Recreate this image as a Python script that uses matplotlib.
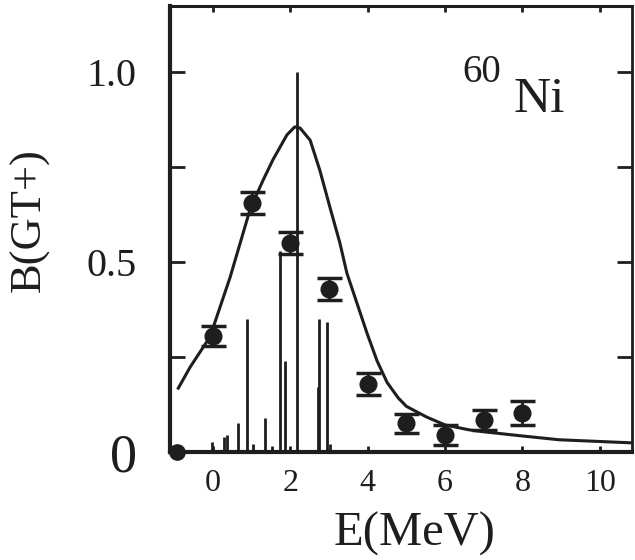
import matplotlib
matplotlib.use("Agg")
import matplotlib.pyplot as plt

plt.rcParams['font.family'] = ['Liberation Serif', 'DejaVu Serif']

# measured B(GT+) strength with errors
e_exp = [0, 1, 2, 3, 4, 5, 6, 7, 8]
b_exp = [0.305, 0.655, 0.55, 0.43, 0.178, 0.076, 0.045, 0.084, 0.103]
b_err = [0.027, 0.029, 0.029, 0.029, 0.029, 0.025, 0.026, 0.026, 0.032]

# lone point at the lower-left corner
e_low = [-0.93]
b_low = [0.0]

# folded strength curve
e_curve = [-0.9, -0.59, -0.08, 0.44, 0.96, 1.29, 1.55, 1.91, 2.11, 2.25,
           2.51, 2.76, 3.02, 3.28, 3.46, 3.72, 3.98, 4.24, 4.5, 4.79, 5.0,
           5.52, 6.0, 6.63, 7.0, 8.0, 8.95, 10.8]
b_curve = [0.168, 0.224, 0.303, 0.46, 0.64, 0.715, 0.77, 0.835, 0.856, 0.853,
           0.821, 0.742, 0.645, 0.55, 0.471, 0.392, 0.313, 0.24, 0.183, 0.142,
           0.12, 0.092, 0.071, 0.058, 0.053, 0.042, 0.032, 0.024]

# calculated transitions (stick spectrum)
e_sticks = [-0.02, 0.27, 0.35, 0.65, 0.88, 1.03, 1.33, 1.52, 1.73, 1.86,
            2.16, 2.71, 2.74, 2.94, 3.02]
b_sticks = [0.027, 0.04, 0.045, 0.076, 0.35, 0.02, 0.089, 0.015, 0.53, 0.24,
            1.0, 0.17, 0.35, 0.343, 0.02]

ink = '#1e1e1e'

fig = plt.figure(figsize=(6.35, 5.6), dpi=100)
ax = fig.add_axes([0.268, 0.193, 0.727, 0.796])

ax.vlines(e_sticks, 0, b_sticks, color=ink, lw=2.0)
ax.plot(e_curve, b_curve, color=ink, lw=2.2)
ax.errorbar(e_exp, b_exp, yerr=b_err, fmt='o', ms=12, color=ink,
            ecolor=ink, elinewidth=2, capsize=9, capthick=2.5)
ax.plot(e_low, b_low, 'o', ms=11, color=ink, clip_on=False, zorder=5)

ax.set_xlim(-1.11, 10.83)
ax.set_ylim(0, 1.174)

ax.set_xticks([0, 2, 4, 6, 8, 10])
ax.set_yticks([0, 0.25, 0.5, 0.75, 1.0])
ax.set_yticklabels(['0', '', '0.5', '', '1.0'])
ax.tick_params(axis='x', direction='in', top=True, length=4, width=2,
               labelsize=23, pad=12, colors=ink)
ax.tick_params(axis='y', direction='in', right=True, length=11, width=2,
               labelsize=29, pad=24, colors=ink)
for lbl in ax.get_yticklabels():
    if lbl.get_text() == '0':
        lbl.set_fontsize(39)

for side, w in [('left', 3), ('bottom', 3), ('top', 2.2), ('right', 2)]:
    ax.spines[side].set_linewidth(w)
    ax.spines[side].set_color(ink)

ax.set_xlabel('E(MeV)', fontsize=35, color=ink)
ax.xaxis.set_label_coords(0.53, -0.135)
ax.set_ylabel('B(GT+)', fontsize=32, color=ink)
ax.yaxis.set_label_coords(-0.26, 0.52)

ax.text(6.46, 0.975, '60', fontsize=28, color=ink, ha='left', va='baseline')
ax.text(7.78, 0.895, 'Ni', fontsize=37, color=ink, ha='left', va='baseline')

fig.savefig('out.png', dpi=100, facecolor='white')
